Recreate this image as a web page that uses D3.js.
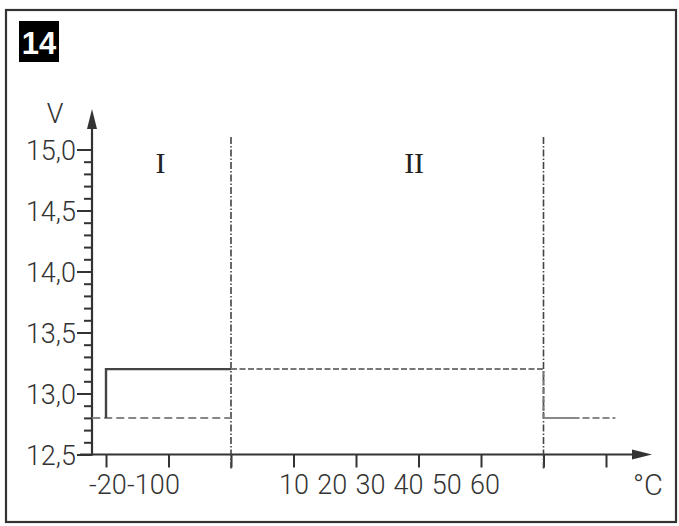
<!DOCTYPE html>
<html>
<head>
<meta charset="utf-8">
<script src="https://cdn.jsdelivr.net/npm/d3@7"></script>
<style>
  html, body { margin: 0; padding: 0; background: #fff; }
  svg { display: block; }
</style>
</head>
<body>
<svg id="chart" width="679" height="526"></svg>
<script>
// ---- data ----
const yMajorTicks = [12.5, 13.0, 13.5, 14.0, 14.5, 15.0];
const yMinorTicks = d3.range(125, 151, 1).map(v => v / 10);
const xTicks = [-20, -10, 0, 10, 20, 30, 40, 50, 60];
const xLabelsLeft = [-20, -10, 0];
const xLabelsRight = [10, 20, 30, 40, 50, 60];
const zoneBounds = [0, 50];
const zoneNames = ["I", "II"];
const zoneLabelX = [-11.3, 29.3];
// solid line (region I upper voltage)
const solidT = [-20, -20, 0];
const solidV = [12.8, 13.2, 13.2];
// dashed line, region I lower voltage
const dashIT = [-22.2, 0];
const dashIV = [12.8, 12.8];
// region II dashed
const dashIIT = [0, 50, 50];
const dashIIV = [13.2, 13.2, 12.8];
// region III short line
const dashIIIT = [50, 61.5];
const dashIIIV = [12.8, 12.8];

// ---- setup ----
const svg = d3.select("#chart");
const x = d3.scaleLinear().domain([-20, 60]).range([106, 606]);
const y = d3.scaleLinear().domain([12.5, 15.0]).range([454.5, 149.5]);
const axisX0 = 92;
const ink = "#333";
const fontSans = "Roboto, 'Liberation Sans', sans-serif";
const fmt = v => d3.format(".1f")(v).replace(".", ",");

// frame
svg.append("rect").attr("x", 6).attr("y", 10).attr("width", 670).attr("height", 512)
  .attr("fill", "none").attr("stroke", "#333").attr("stroke-width", 2.2);

// figure number badge
svg.append("rect").attr("x", 19).attr("y", 21).attr("width", 40).attr("height", 41).attr("fill", "#000");
svg.append("text").attr("x", 39).attr("y", 53.5).attr("text-anchor", "middle")
  .attr("font-family", "'Liberation Sans', Arial, sans-serif").attr("font-weight", "bold")
  .attr("font-size", 31).attr("fill", "#fff").text("14");

// y minor ticks
const yMinorAxis = d3.axisLeft(y).tickValues(yMinorTicks).tickSize(8).tickFormat("");
const gMinor = svg.append("g").attr("transform", `translate(${axisX0},0)`).call(yMinorAxis);
gMinor.select(".domain").remove();
gMinor.selectAll("line").attr("stroke", ink).attr("stroke-width", 2);

// y major ticks + labels
const yAxis = d3.axisLeft(y).tickValues(yMajorTicks).tickSize(15).tickPadding(1).tickFormat(fmt);
const gY = svg.append("g").attr("transform", `translate(${axisX0},0)`).call(yAxis);
gY.select(".domain").remove();
gY.selectAll("line").attr("stroke", ink).attr("stroke-width", 2);
gY.selectAll("text").attr("font-family", fontSans).attr("font-weight", 300)
  .attr("font-size", 27).attr("fill", ink).attr("dy", "0.36em");

// x ticks
const xAxis = d3.axisBottom(x).tickValues(xTicks).tickSize(13).tickFormat("");
const gX = svg.append("g").attr("transform", `translate(0,${y(12.5)})`).call(xAxis);
gX.select(".domain").remove();
gX.selectAll("line").attr("stroke", ink).attr("stroke-width", 2);

// axis lines with arrows
svg.append("line").attr("x1", axisX0).attr("y1", y(12.5) + 1).attr("x2", axisX0).attr("y2", 124)
  .attr("stroke", ink).attr("stroke-width", 2.2);
svg.append("path").attr("d", `M${axisX0},109 L${axisX0 - 5},129 L${axisX0 + 5},129 Z`).attr("fill", ink);
svg.append("line").attr("x1", 80).attr("y1", y(12.5)).attr("x2", 636).attr("y2", y(12.5))
  .attr("stroke", ink).attr("stroke-width", 2.2);
svg.append("path").attr("d", `M652,${y(12.5)} L632,${y(12.5) - 5} L632,${y(12.5) + 5} Z`).attr("fill", ink);

// axis titles
svg.append("text").attr("x", 55).attr("y", 123).attr("text-anchor", "middle")
  .attr("font-family", fontSans).attr("font-weight", 300).attr("font-size", 27).attr("fill", ink).text("V");
svg.append("text").attr("x", 648).attr("y", 495).attr("text-anchor", "middle")
  .attr("font-family", fontSans).attr("font-weight", 300).attr("font-size", 29).attr("fill", ink).text("°C");

// x labels (compressed, as in the original)
const labL = d3.scaleLinear().domain([-20, 0]).range([89, 165]);
const labR = d3.scaleLinear().domain([10, 60]).range([294, 485]);
svg.append("g").selectAll("text").data(xLabelsLeft).join("text")
  .attr("x", d => labL(d)).attr("y", 494).attr("text-anchor", "start")
  .attr("font-family", fontSans).attr("font-weight", 300).attr("font-size", 27).attr("fill", ink)
  .text(d => d);
svg.append("g").selectAll("text").data(xLabelsRight).join("text")
  .attr("x", d => labR(d)).attr("y", 494).attr("text-anchor", "middle")
  .attr("font-family", fontSans).attr("font-weight", 300).attr("font-size", 27).attr("fill", ink)
  .text(d => d);

// zone boundaries (dash-dot)
svg.append("g").selectAll("line").data(zoneBounds).join("line")
  .attr("x1", d => x(d)).attr("x2", d => x(d)).attr("y1", 137).attr("y2", y(12.5) + 14)
  .attr("stroke", "#444").attr("stroke-width", 1.6).attr("stroke-dasharray", "7,2,1.5,2");

// zone labels
svg.append("g").selectAll("text").data(zoneNames).join("text")
  .attr("x", (d, i) => x(zoneLabelX[i])).attr("y", 173).attr("text-anchor", "middle")
  .attr("font-family", "'Liberation Serif', 'DejaVu Serif', serif").attr("font-size", 30).attr("fill", "#222")
  .text(d => d);

// data lines
const line = d3.line().x(d => x(d[0])).y(d => y(d[1]));
const zip = (a, b) => a.map((v, i) => [v, b[i]]);

svg.append("path").attr("d", line(zip(dashIT, dashIV))).attr("fill", "none")
  .attr("stroke", "#888").attr("stroke-width", 2).attr("stroke-dasharray", "8,4");
svg.append("path").attr("d", line(zip(dashIIT, dashIIV))).attr("fill", "none")
  .attr("stroke", "#777").attr("stroke-width", 2).attr("stroke-dasharray", "6,2.5");
svg.append("path").attr("d", line(zip(dashIIIT, dashIIIV))).attr("fill", "none")
  .attr("stroke", "#888").attr("stroke-width", 2).attr("stroke-dasharray", "36,3,7,3,7,3,7,3");
svg.append("path").attr("d", line(zip(solidT, solidV))).attr("fill", "none")
  .attr("stroke", "#444").attr("stroke-width", 2.4);
</script>
</body>
</html>
